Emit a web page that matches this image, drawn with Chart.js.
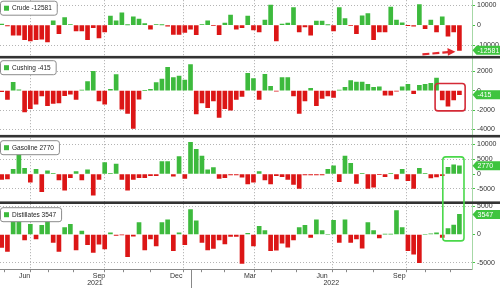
<!DOCTYPE html>
<html>
<head>
<meta charset="utf-8">
<script src="https://cdn.jsdelivr.net/npm/chart.js@4.4.0/dist/chart.umd.min.js"></script>
<style>
  html, body { margin: 0; padding: 0; background: #fff; overflow: hidden; width: 500px; height: 288px; }
  #wrap { position: absolute; left: 0; top: 0; width: 500px; height: 288px; }
</style>
</head>
<body>
<div id="wrap"><canvas id="chart" width="500" height="288"></canvas></div>
<script>
// weekly changes, oldest -> newest (thousand barrels)
const crude = [
  500, -300, -5000, -5000, -7200, -7800, -7200, -7000, -8300, 2200,
  -4200, 3800, 300, -2800, -2800, -7200, -1200, -6300, -3300, 4500,
  2200, 6200, 200, 4200, 3000, 800, -2000, 300, 100, -500,
  -4600, -4600, -3600, -2000, -4700, 300, 2200, -200, -4700, 1100,
  5000, -2000, -1200, 4500, -2300, -3300, 2500, 10000, -7800, 500,
  1100, 8800, -3300, -800, -5000, 2000, 2000, 100, -2800, 8800,
  3300, -200, -4200, 4700, 5800, -7200, -3400, -3400, 9000, 2500,
  1200, -100, -500, 10300, -1700, 2500, -3300, 4200, -5500, -3300,
  -12581
];
const cushing = [
  -100, -900, 870, 100, -2200, -1850, -1400, -550, -1550, -1300,
  -1250, -500, -350, -900, 50, 950, 2000, -1050, -1400, 150,
  1650, -1900, -2350, -3900, -870, 0, 150, 830, 1200, 2400,
  1350, 1500, 1100, 2700, -2400, -1250, -1750, -1050, -2750, -1850,
  -2000, -900, -600, 1800, 1250, -900, 1700, 450, -50, 1350,
  1350, -550, -2350, -1050, 250, -1550, -800, -550, -700, 50,
  350, 1050, 900, 900, 650, 350, 400, -450, -450, -50,
  400, 650, -300, 550, 650, 750, 1300, -950, -1600, -950,
  -415
];
const gasoline = [
  -1800, -1700, 1600, 6800, 1900, -2800, 1600, -6000, 1100, 200,
  -2000, -5500, -1250, 800, -2000, 1400, -7200, -1800, 3900, 100,
  3400, -1800, -5500, -1800, -1250, -1250, -600, -600, 4200, 4200,
  -700, 5900, -1500, 10700, 8400, 6100, 1400, 2200, -1500, -1250,
  -350, -350, -1100, -3400, -2800, 800, -2000, -3400, -600, -900,
  -1800, -3500, -4900, -350, -350, -350, -350, 1600, 2800, -2600,
  6100, 3600, -3200, 200, -4900, -4500, -100, -900, 100, -1700,
  1600, -2300, -4900, 1900, 100, -1300, -1000, -600, 2300, 3100,
  2770
];
const distillates = [
  -2300, -3000, 2400, 2400, -950, 1800, -800, 1600, 2400, -1400,
  -3000, 1200, 1800, -2700, 600, -1800, -3150, -1700, -2550, 300,
  -150, -50, -3900, -300, 2100, -2700, -800, -2000, 2100, 2600,
  -2850, 300, -1800, 4400, 2400, -1400, -2700, -2450, -950, -1650,
  -350, -350, -5100, 200, -2000, 1450, 700, -2850, -2750, -1550,
  -2250, -950, 1200, 1600, -500, 2600, 700, 0, 2500, -1400,
  2600, -1400, -800, -2400, 2100, 700, -600, 50, 50, 4200,
  1200, -2850, -3450, -4950, 0, 100, 300, -500, 1050, 1650,
  3547
];

const seriesNames = ['Crude', 'Cushing', 'Gasoline', 'Distillates'];
const crudeTicks = [-10000, 0, 10000];
const cushingTicks = [-4000, -2000, 0, 2000];
const gasolineTicks = [-5000, 0, 5000, 10000];
const distillateTicks = [-5000, 0, 5000];

// x axis (week index units)
const monthLabels = ['Jun', 'Sep', 'Dec', 'Mar', 'Jun', 'Sep'];
const monthLabelAt = [4, 17, 30.5, 43.4, 56, 69.5];
const yearLabels = ['2021', '2022'];
const yearLabelAt = [16.3, 57.6];
const quarterLineAt = [6, 19, 33, 45, 58, 72];
const monthMarkAt = [1.7, 10.3, 14.7, 23.7, 28.3, 37, 41, 49.3, 53.7, 62.7, 67.3, 76.3, 80.7];
const yearBoundaryAt = 33;

const GREEN = '#3dba3d';
const RED = '#dc1616';
const TAG = '#3fc43f';
const FONT = '"Liberation Sans", Arial, sans-serif';

Chart.defaults.font.family = FONT;
Chart.defaults.font.size = 7;
Chart.defaults.color = '#333';

const panels = [
  { id: 'yC', values: crude, ticks: crudeTicks, min: -16000, max: 12500, weight: 57, legendTop: 0.5 },
  { id: 'yK', values: cushing, ticks: cushingTicks, min: -4691, max: 3454, weight: 79, legendTop: 3 },
  { id: 'yG', values: gasoline, ticks: gasolineTicks, min: -9729, max: 12814, weight: 66.5, legendTop: 4 },
  { id: 'yD', values: distillates, ticks: distillateTicks, min: -6120, max: 5608, weight: 66.5, legendTop: 4.5 }
];
panels.forEach((p, k) => { p.name = seriesNames[k]; });

const xLabel = new Map();
monthLabels.forEach((m, i) => xLabel.set(monthLabelAt[i], m));
yearLabels.forEach((y, i) => xLabel.set(yearLabelAt[i], ['', y]));
const quarterSet = new Set(quarterLineAt);
const markSet = new Set(monthMarkAt.concat(quarterLineAt));
const xTickValues = [...monthLabelAt, ...yearLabelAt, ...quarterLineAt, ...monthMarkAt].sort((a, b) => a - b);

const scales = {
  x: {
    type: 'linear',
    min: -0.3,
    max: 82.2,
    offset: false,
    afterBuildTicks: s => { s.ticks = xTickValues.map(v => ({ value: v })); },
    afterFit: s => { s.height = 19; },
    ticks: {
      autoSkip: false,
      maxRotation: 0,
      padding: 0,
      color: '#333',
      font: { size: 7, lineHeight: 1.05 },
      callback: v => xLabel.has(v) ? xLabel.get(v) : ''
    },
    grid: {
      color: c => (c.tick && quarterSet.has(c.tick.value)) ? '#a9a9a9' : 'rgba(0,0,0,0)',
      tickColor: c => (c.tick && markSet.has(c.tick.value)) ? '#888' : 'rgba(0,0,0,0)',
      tickLength: 3,
      tickBorderDash: []
    },
    border: { color: '#888', dash: [1, 2] }
  }
};

panels.forEach(p => {
  scales[p.id] = {
    type: 'linear',
    position: 'right',
    stack: 'panels',
    stackWeight: p.weight,
    min: p.min,
    max: p.max,
    afterBuildTicks: s => { s.ticks = p.ticks.map(v => ({ value: v })); },
    afterFit: s => { s.width = 28; },
    ticks: { color: '#333', padding: 2, font: { size: 7 }, callback: v => String(v) },
    grid: {
      color: c => (c.tick && c.tick.value === 0) ? 'rgba(0,0,0,0)' : '#b4b4b4',
      tickColor: '#45c445',
      tickLength: 3,
      tickBorderDash: []
    },
    border: { color: '#a6d8a6', dash: [1, 2] }
  };
});

function box(ctx, x, y, w, h, r) {
  ctx.beginPath();
  if (ctx.roundRect) ctx.roundRect(x, y, w, h, r);
  else ctx.rect(x, y, w, h);
}

const decor = {
  id: 'decor',
  afterDraw(chart) {
    const ctx = chart.ctx;
    const xs = chart.scales.x;
    const area = chart.chartArea;
    const W = chart.width;
    ctx.save();

    // year boundary tick under the axis
    const xb = Math.round(xs.getPixelForValue(yearBoundaryAt)) + 0.5;
    ctx.strokeStyle = '#888';
    ctx.lineWidth = 1;
    ctx.beginPath();
    ctx.moveTo(xb, area.bottom);
    ctx.lineTo(xb, chart.height);
    ctx.stroke();

    // dark separators between panels
    ctx.fillStyle = '#333';
    panels.slice(0, 3).forEach(p => {
      const b = chart.scales[p.id].bottom;
      ctx.fillRect(0, b - 1.3, W, 2.6);
    });

    // legend boxes
    panels.forEach(p => {
      const s = chart.scales[p.id];
      const text = p.name + ' ' + p.values[p.values.length - 1];
      ctx.font = '6.5px ' + FONT;
      const w = ctx.measureText(text).width + 17;
      const top = s.top + p.legendTop;
      box(ctx, 0.5, top + 0.5, w, 14, 2.5);
      ctx.fillStyle = '#fff';
      ctx.fill();
      ctx.strokeStyle = '#8c8c8c';
      ctx.lineWidth = 1;
      ctx.stroke();
      ctx.fillStyle = GREEN;
      ctx.fillRect(4, top + 5, 5, 5);
      ctx.fillStyle = '#222';
      ctx.textAlign = 'left';
      ctx.textBaseline = 'middle';
      ctx.fillText(text, 12, top + 8);
    });

    // last value tags on the right axis
    panels.forEach(p => {
      const s = chart.scales[p.id];
      const v = p.values[p.values.length - 1];
      const y = s.getPixelForValue(v);
      const x0 = area.right + 0.5;
      ctx.fillStyle = TAG;
      ctx.beginPath();
      ctx.moveTo(x0, y);
      ctx.lineTo(x0 + 4, y - 4.5);
      ctx.lineTo(W, y - 4.5);
      ctx.lineTo(W, y + 4.5);
      ctx.lineTo(x0 + 4, y + 4.5);
      ctx.closePath();
      ctx.fill();
      ctx.fillStyle = '#fff';
      ctx.font = '7px ' + FONT;
      ctx.textAlign = 'left';
      ctx.textBaseline = 'middle';
      ctx.fillText(String(v), x0 + 5, y + 0.5);
    });

    const last = crude.length - 1;

    // red dashed arrow pointing at the latest crude draw
    const yC = chart.scales.yC;
    const xe = xs.getPixelForValue(last) - 4;
    const ye = yC.getPixelForValue(crude[last]) + 1.5;
    ctx.strokeStyle = '#e2262b';
    ctx.fillStyle = '#e2262b';
    ctx.lineWidth = 2.2;
    ctx.setLineDash([7, 3]);
    ctx.beginPath();
    ctx.moveTo(xe - 33, ye + 2.5);
    ctx.lineTo(xe - 7, ye + 0.3);
    ctx.stroke();
    ctx.setLineDash([]);
    ctx.beginPath();
    ctx.moveTo(xe, ye);
    ctx.lineTo(xe - 8, ye - 3.8);
    ctx.lineTo(xe - 7.5, ye + 3.8);
    ctx.closePath();
    ctx.fill();

    // red box around the last Cushing weeks
    const yK = chart.scales.yK;
    const rx0 = xs.getPixelForValue(last - 4.25), rx1 = xs.getPixelForValue(last + 1);
    const ry0 = yK.getPixelForValue(740), ry1 = yK.getPixelForValue(-2080);
    ctx.strokeStyle = '#d42a36';
    ctx.lineWidth = 1.6;
    box(ctx, rx0, ry0, rx1 - rx0, ry1 - ry0, 3);
    ctx.stroke();

    // green box spanning gasoline and distillates
    const gx0 = xs.getPixelForValue(last - 2.9), gx1 = xs.getPixelForValue(last + 0.8);
    const gy0 = chart.scales.yG.getPixelForValue(5800), gy1 = chart.scales.yD.getPixelForValue(-1130);
    ctx.strokeStyle = '#4ad84a';
    ctx.lineWidth = 1.6;
    box(ctx, gx0, gy0, gx1 - gx0, gy1 - gy0, 3);
    ctx.stroke();

    ctx.restore();
  }
};

const chart = new Chart(document.getElementById('chart'), {
  type: 'bar',
  data: {
    datasets: panels.map(p => ({
      label: p.name,
      yAxisID: p.id,
      data: p.values.map((v, i) => ({ x: i, y: v })),
      backgroundColor: c => (c.raw && c.raw.y < 0) ? RED : GREEN,
      borderWidth: 0,
      grouped: false,
      barThickness: 4
    }))
  },
  options: {
    responsive: false,
    maintainAspectRatio: false,
    animation: false,
    devicePixelRatio: 1,
    layout: { padding: 0 },
    plugins: { legend: { display: false }, tooltip: { enabled: false } },
    scales: scales
  },
  plugins: [decor]
});

// shift canvas so the plot area starts at the top edge
const T = chart.chartArea.top;
if (T > 0) {
  const wrap = document.getElementById('wrap');
  wrap.style.top = (-T) + 'px';
  wrap.style.height = (288 + T) + 'px';
  chart.resize(500, 288 + T);
}
</script>
</body>
</html>
